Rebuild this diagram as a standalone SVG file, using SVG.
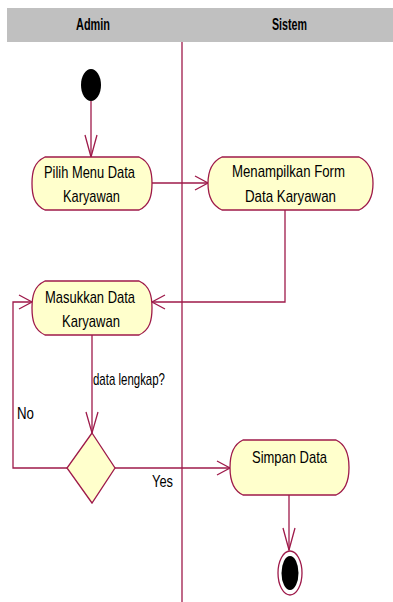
<svg xmlns="http://www.w3.org/2000/svg" width="393" height="602" viewBox="0 0 393 602">
<style>
.line{fill:none;stroke:#9e1a4a;stroke-width:1.3}
.head{fill:none;stroke:#9e1a4a;stroke-width:1.3}
.act{fill:#ffffcc;stroke:#9e1a4a;stroke-width:1.3}
.t{font-family:"Liberation Sans",Arial,sans-serif;font-size:17px;fill:#000;text-anchor:start}
.h{font-family:"Liberation Sans",Arial,sans-serif;font-size:16px;font-weight:bold;fill:#000}
</style>
<rect x="0" y="0" width="393" height="602" fill="#fff"/>
<g id="header">
<rect x="7" y="8" width="386" height="34" fill="#c0c0c0"/>
<text class="h" x="76" y="30" textLength="34" lengthAdjust="spacingAndGlyphs">Admin</text>
<text class="h" x="272" y="30" textLength="35" lengthAdjust="spacingAndGlyphs">Sistem</text>
</g>
<g id="swimlane">
<line class="line" x1="182" y1="42" x2="182" y2="602"/>
</g>
<g id="connectors">
<line class="line" x1="91" y1="101" x2="91" y2="157"/>
<path class="head" d="M85,135 L91,157 L97,135"/>
<line class="line" x1="152" y1="183" x2="208" y2="183"/>
<path class="head" d="M195,176 L208,183 L195,190"/>
<polyline class="line" points="285,210 285,302 152,302"/>
<path class="head" d="M165,295 L152,302 L165,309"/>
<line class="line" x1="92" y1="335" x2="92" y2="433"/>
<path class="head" d="M86,412 L92,433 L98,412"/>
<polyline class="line" points="67,468 13,468 13,302 32,302"/>
<path class="head" d="M19,295 L32,302 L19,309"/>
<line class="line" x1="115" y1="468" x2="230" y2="468"/>
<path class="head" d="M217,461 L230,468 L217,475"/>
<line class="line" x1="289" y1="495" x2="289" y2="550"/>
<path class="head" d="M283,528 L289,550 L295,528"/>
<text class="t" x="93" y="385" textLength="72" lengthAdjust="spacingAndGlyphs">data lengkap?</text>
<text class="t" x="17" y="419" textLength="17" lengthAdjust="spacingAndGlyphs">No</text>
<text class="t" x="152" y="487" textLength="21" lengthAdjust="spacingAndGlyphs">Yes</text>
</g>
<g id="start">
<ellipse cx="91" cy="85" rx="10" ry="16" fill="#000"/>
</g>
<g id="pilih">
<path class="act" d="M45,157 H139 C150,162 152,172 152,183.5 C152,195 150,205 139,210 H45 C34,205 32,195 32,183.5 C32,172 34,162 45,157 Z"/>
<text class="t" x="44" y="178" textLength="91" lengthAdjust="spacingAndGlyphs">Pilih Menu Data</text>
<text class="t" x="63" y="202" textLength="57" lengthAdjust="spacingAndGlyphs">Karyawan</text>
</g>
<g id="menampilkan">
<path class="act" d="M222,157 H359 C370,162 373,172 373,183.5 C373,195 370,205 359,210 H222 C211,205 208,195 208,183.5 C208,172 211,162 222,157 Z"/>
<text class="t" x="232" y="177" textLength="113" lengthAdjust="spacingAndGlyphs">Menampilkan Form</text>
<text class="t" x="245" y="202" textLength="91" lengthAdjust="spacingAndGlyphs">Data Karyawan</text>
</g>
<g id="masukkan">
<path class="act" d="M45,281 H139 C150,286 152,296 152,308 C152,320 150,330 139,335 H45 C34,330 32,320 32,308 C32,296 34,286 45,281 Z"/>
<text class="t" x="45" y="303" textLength="90" lengthAdjust="spacingAndGlyphs">Masukkan Data</text>
<text class="t" x="62" y="327" textLength="58" lengthAdjust="spacingAndGlyphs">Karyawan</text>
</g>
<g id="decision">
<path class="act" d="M92,433 L115,468 L92,503 L67,468 Z"/>
</g>
<g id="simpan">
<path class="act" d="M243,440 H336 C347,445 349,456 349,467.5 C349,479 347,490 336,495 H243 C232,490 230,479 230,467.5 C230,456 232,445 243,440 Z"/>
<text class="t" x="252" y="463" textLength="75" lengthAdjust="spacingAndGlyphs">Simpan Data</text>
</g>
<g id="end">
<ellipse cx="290" cy="573" rx="12" ry="22" fill="#fff" stroke="#9e1a4a" stroke-width="1.3"/>
<ellipse cx="290" cy="573" rx="8.5" ry="17" fill="#000"/>
</g>
</svg>
